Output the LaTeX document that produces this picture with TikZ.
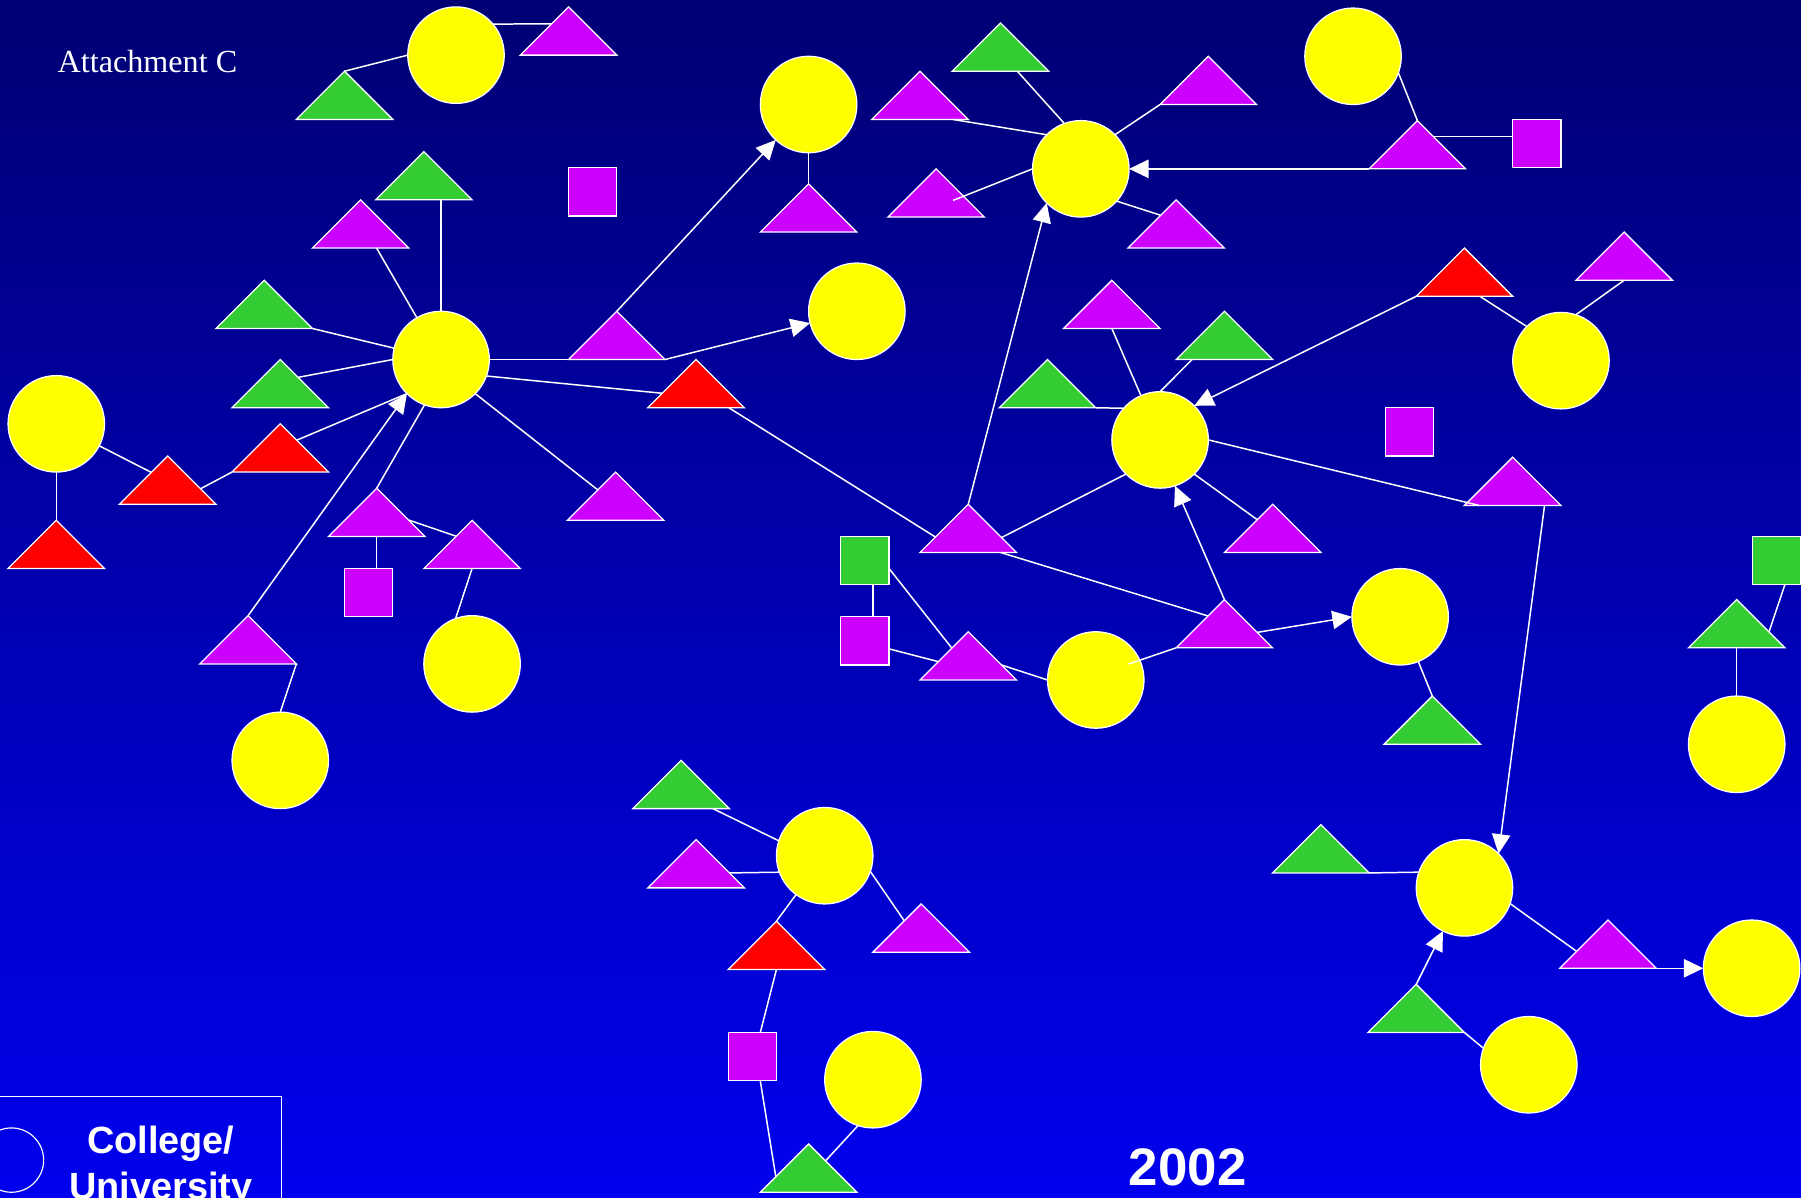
\documentclass[tikz,border=0pt]{standalone}
\usepackage{fontspec}
\setmainfont{Liberation Serif}
\newfontfamily\arialfont{Liberation Sans}
\usepackage{tikz}
\usetikzlibrary{calc,shapes.geometric,arrows.meta}
\definecolor{BgTop}{RGB}{0,0,115}
\definecolor{BgBottom}{RGB}{0,0,238}
\definecolor{NodeYellow}{RGB}{255,255,0}
\definecolor{NodeMagenta}{RGB}{204,0,255}
\definecolor{NodeGreen}{RGB}{51,204,51}
\definecolor{NodeRed}{RGB}{255,0,0}
\tikzset{
	col/.style={circle,draw=white,fill=NodeYellow,line width=1.1pt,minimum size=84pt,inner sep=0pt,outer sep=0pt},
	tri/.style={isosceles triangle,isosceles triangle apex angle=90,shape border rotate=90,
		draw=white,fill=#1,line width=1.1pt,minimum size=42pt,inner sep=0pt,outer sep=0pt,anchor=lower side},
	sq/.style={rectangle,draw=white,fill=#1,line width=1.1pt,minimum size=42pt,inner sep=0pt,outer sep=0pt},
	link/.style={draw=white,line width=1.3pt},
	arr/.style={link,-{Triangle[length=17pt,width=16pt]}},
	lbl/.style={text=white,inner sep=0pt},
}

\begin{document}
\begin{tikzpicture}[x=1pt,y=-1pt]
	\useasboundingbox (0,0) rectangle (1568,1043);
	\clip (0,0) rectangle (1568,1043);
	\shade[top color=BgTop,bottom color=BgBottom] (0,0) rectangle (1568,1043);

	\node[col] (c1) at (397,48) {};
	\node[col] (c2) at (704,91) {};
	\node[col] (c3) at (941,147) {};
	\node[col] (c4) at (1178,49) {};
	\node[col] (c5) at (384,313) {};
	\node[col] (c6) at (746,271) {};
	\node[col] (c7) at (49,369) {};
	\node[col] (c8) at (1359,314) {};
	\node[col] (c9) at (1010,383) {};
	\node[col] (c10) at (411,578) {};
	\node[col] (c11) at (244,662) {};
	\node[col] (c12) at (1219,537) {};
	\node[col] (c13) at (954,592) {};
	\node[col] (c14) at (1512,648) {};
	\node[col] (c15) at (718,745) {};
	\node[col] (c16) at (1275,773) {};
	\node[col] (c17) at (1525,843) {};
	\node[col] (c18) at (760,940) {};
	\node[col] (c19) at (1331,927) {};

	\node[tri=NodeMagenta] (t1) at (495,48) {};
	\node[tri=NodeGreen] (t2) at (300,104) {};
	\node[tri=NodeGreen] (t3) at (369,174) {};
	\node[tri=NodeMagenta] (t4) at (314,216) {};
	\node[tri=NodeGreen] (t5) at (230,286) {};
	\node[tri=NodeGreen] (t6) at (244,355) {};
	\node[tri=NodeRed] (t7) at (49,495) {};
	\node[tri=NodeRed] (t8) at (146,439) {};
	\node[tri=NodeRed] (t9) at (244,411) {};
	\node[tri=NodeMagenta] (t10) at (328,467) {};
	\node[tri=NodeMagenta] (t11) at (411,495) {};
	\node[tri=NodeMagenta] (t12) at (536,453) {};
	\node[tri=NodeMagenta] (t13) at (216,578) {};
	\node[tri=NodeMagenta] (t14) at (537,313) {};
	\node[tri=NodeRed] (t15) at (606,355) {};
	\node[tri=NodeMagenta] (t16) at (704,202) {};
	\node[tri=NodeGreen] (t17) at (871,62) {};
	\node[tri=NodeMagenta] (t18) at (801,104) {};
	\node[tri=NodeMagenta] (t19) at (1052,91) {};
	\node[tri=NodeMagenta] (t20) at (815,189) {};
	\node[tri=NodeMagenta] (t21) at (1024,216) {};
	\node[tri=NodeMagenta] (t22) at (1234,147) {};
	\node[tri=NodeRed] (t23) at (1275,258) {};
	\node[tri=NodeMagenta] (t24) at (1414,244) {};
	\node[tri=NodeMagenta] (t25) at (968,286) {};
	\node[tri=NodeGreen] (t26) at (1066,313) {};
	\node[tri=NodeGreen] (t27) at (912,355) {};
	\node[tri=NodeMagenta] (t28) at (843,481) {};
	\node[tri=NodeMagenta] (t29) at (1108,481) {};
	\node[tri=NodeMagenta] (t30) at (1317,440) {};
	\node[tri=NodeMagenta] (t31) at (1066,564) {};
	\node[tri=NodeMagenta] (t32) at (843,592) {};
	\node[tri=NodeGreen] (t33) at (1247,648) {};
	\node[tri=NodeGreen] (t34) at (1512,564) {};
	\node[tri=NodeGreen] (t35) at (593,704) {};
	\node[tri=NodeMagenta] (t36) at (606,773) {};
	\node[tri=NodeRed] (t37) at (676,844) {};
	\node[tri=NodeMagenta] (t38) at (802,829) {};
	\node[tri=NodeGreen] (t39) at (704,1038) {};
	\node[tri=NodeGreen] (t40) at (1150,760) {};
	\node[tri=NodeMagenta] (t41) at (1400,843) {};
	\node[tri=NodeGreen] (t42) at (1233,899) {};

	\node[sq=NodeMagenta] (s1) at (516,167) {};
	\node[sq=NodeMagenta] (s2) at (1338,125) {};
	\node[sq=NodeMagenta] (s3) at (1227,376) {};
	\node[sq=NodeGreen] (s4) at (753,488) {};
	\node[sq=NodeMagenta] (s5) at (753,558) {};
	\node[sq=NodeGreen] (s6) at (1547,488) {};
	\node[sq=NodeMagenta] (s7) at (321,516) {};
	\node[sq=NodeMagenta] (s8) at (655,920) {};

	\coordinate (p22) at ($(t22.apex)!0.33!(t22.right corner)$);
	\coordinate (p4) at ($(s4.south)!0.33!(s4.south east)$);

	\draw[link] (c1.40) -- ($(t1.apex)!0.35!(t1.left corner)$);
	\draw[link] (t2.apex) -- (c1.west);
	\draw[link] (c5.north) -- (c5.north |- t3.lower side);
	\draw[link] ($(t4.lower side)!0.33!(t4.right corner)$) -- (c5);
	\draw[link] (t5.right corner) -- (c5);
	\draw[link] ($(t6.apex)!0.37!(t6.right corner)$) -- (c5.west);
	\draw[link] (c7.south) -- (t7.apex);
	\draw[link] (c7) -- ($(t8.apex)!0.34!(t8.left corner)$);
	\draw[link] ($(t8.apex)!0.68!(t8.right corner)$) -- (t9.left corner);
	\draw[link] ($(t9.apex)!0.34!(t9.right corner)$) -- (c5.225);
	\draw[link] (c5.250) -- (t10.apex);
	\draw[link] ($(t10.apex)!0.66!(t10.right corner)$) -- ($(t11.apex)!0.33!(t11.left corner)$);
	\draw[link] (t10.lower side) -- (t10.lower side |- s7.north);
	\draw[link] (t11.lower side) -- (c10.110);
	\draw[link] (c5.315) -- ($(t12.apex)!0.37!(t12.left corner)$);
	\draw[arr] (t13.apex) -- (c5.225);
	\draw[link] (t13.right corner) -- (c11.north);
	\draw[link] (c5.east) -- (t14.left corner);
	\draw[arr] (t14.apex) -- (c2);
	\draw[arr] (t14.right corner) -- (c6);
	\draw[link] (c5.340) -- ($(t15.apex)!0.7!(t15.left corner)$);
	\draw[link] ($(t15.lower side)!0.68!(t15.right corner)$) -- ($(t28.apex)!0.68!(t28.left corner)$);
	\draw[link] (c2.south) -- (t16.apex);
	\draw[link] ($(t17.lower side)!0.35!(t17.right corner)$) -- (c3.110);
	\draw[link] ($(t18.lower side)!0.68!(t18.right corner)$) -- (c3.135);
	\draw[link] (t19.left corner) -- (c3.45);
	\draw[link] ($(t20.lower side)!0.35!(t20.right corner)+(0,-14.5)$) -- (c3.west);
	\draw[link] (c3.318) -- ($(t21.apex)!0.32!(t21.left corner)$);
	\draw[arr] (t22.left corner) -- (c3.east);
	\draw[link] (c4.340) -- (t22.apex);
	\draw[link] (p22) -- (p22 -| s2.west);
	\draw[arr] (t23.left corner) -- (c9.45);
	\draw[link] ($(t23.lower side)!0.32!(t23.right corner)$) -- (c8.135);
	\draw[link] (t24.lower side) -- (c8.72);
	\draw[link] (t25.lower side) -- (c9);
	\draw[link] ($(t26.lower side)!0.67!(t26.left corner)$) -- (c9.north);
	\draw[link] (t27.right corner) -- (c9.139);
	\draw[arr] (t28.apex) -- (c3.225);
	\draw[link] ($(t28.apex)!0.69!(t28.right corner)$) -- (c9.225);
	\draw[link] (c9.315) -- ($(t29.apex)!0.32!(t29.left corner)$);
	\draw[link] (c9.east) -- ($(t30.left corner)!0.3!(t30.lower side)$);
	\draw[arr] ($(t30.lower side)!0.66!(t30.right corner)$) -- (c16.45);
	\draw[link] ($(t28.lower side)!0.67!(t28.right corner)$) -- ($(t31.apex)!0.34!(t31.left corner)$);
	\draw[arr] (t31.apex) -- (c9.288);
	\draw[arr] ($(t31.apex)!0.68!(t31.right corner)$) -- (c12.west);
	\draw[link] (t31.left corner) -- ($(c13.center)!0.75!(c13.26)$);
	\draw[link] ($(t32.apex)!0.69!(t32.right corner)$) -- (c13.west);
	\draw[link] (p4) -- (p4 |- s5.north);
	\draw[link] ($(s4.east)!0.33!(s4.south east)$) -- ($(t32.apex)!0.34!(t32.left corner)$);
	\draw[link] ($(s5.east)!0.33!(s5.south east)$) -- ($(t32.apex)!0.62!(t32.left corner)$);
	\draw[link] (c12) -- (t33.apex);
	\draw[link] ($(s6.south)!0.33!(s6.south east)$) -- ($(t34.apex)!0.67!(t34.right corner)$);
	\draw[link] (t34.lower side) -- (c14.north);
	\draw[link] ($(t35.lower side)!0.66!(t35.right corner)$) -- (c15.162);
	\draw[link] ($(t36.apex)!0.69!(t36.right corner)$) -- (c15.200);
	\draw[link] (t37.apex) -- (c15);
	\draw[link] (c15.341) -- ($(t38.apex)!0.35!(t38.left corner)$);
	\draw[link] (t37.lower side) -- ($(s8.north)!0.33!(s8.north east)$);
	\draw[link] ($(s8.south)!0.33!(s8.south east)$) -- ($(t39.apex)!0.68!(t39.left corner)$);
	\draw[link] ($(t39.apex)!0.35!(t39.right corner)$) -- (c18.252);
	\draw[link] (t40.right corner) -- (c16.161);
	\draw[link] (c16.341) -- ($(t41.apex)!0.65!(t41.left corner)$);
	\draw[arr] (t41.right corner) -- (c17.west);
	\draw[arr] (t42.apex) -- (c16);
	\draw[link] (t42.right corner) -- (c19.160);

	\node[lbl,anchor=base west,font=\fontsize{28}{34}\selectfont] (title) at (50,63) {Attachment C};
	\node[lbl,anchor=base,font=\arialfont\bfseries\fontsize{46}{55}\selectfont] (year) at (1034,1032) {2002};
	\draw[white,line width=0.9pt] (-5,955) rectangle (245,1060);
	\node[circle,draw=white,line width=1pt,minimum size=56pt,inner sep=0pt] (legc) at (10,1010) {};
	\node[lbl,anchor=north,align=center,font=\arialfont\bfseries\fontsize{33}{40}\selectfont] (legt) at (140,980) {College/\\University};
\end{tikzpicture}
\end{document}
